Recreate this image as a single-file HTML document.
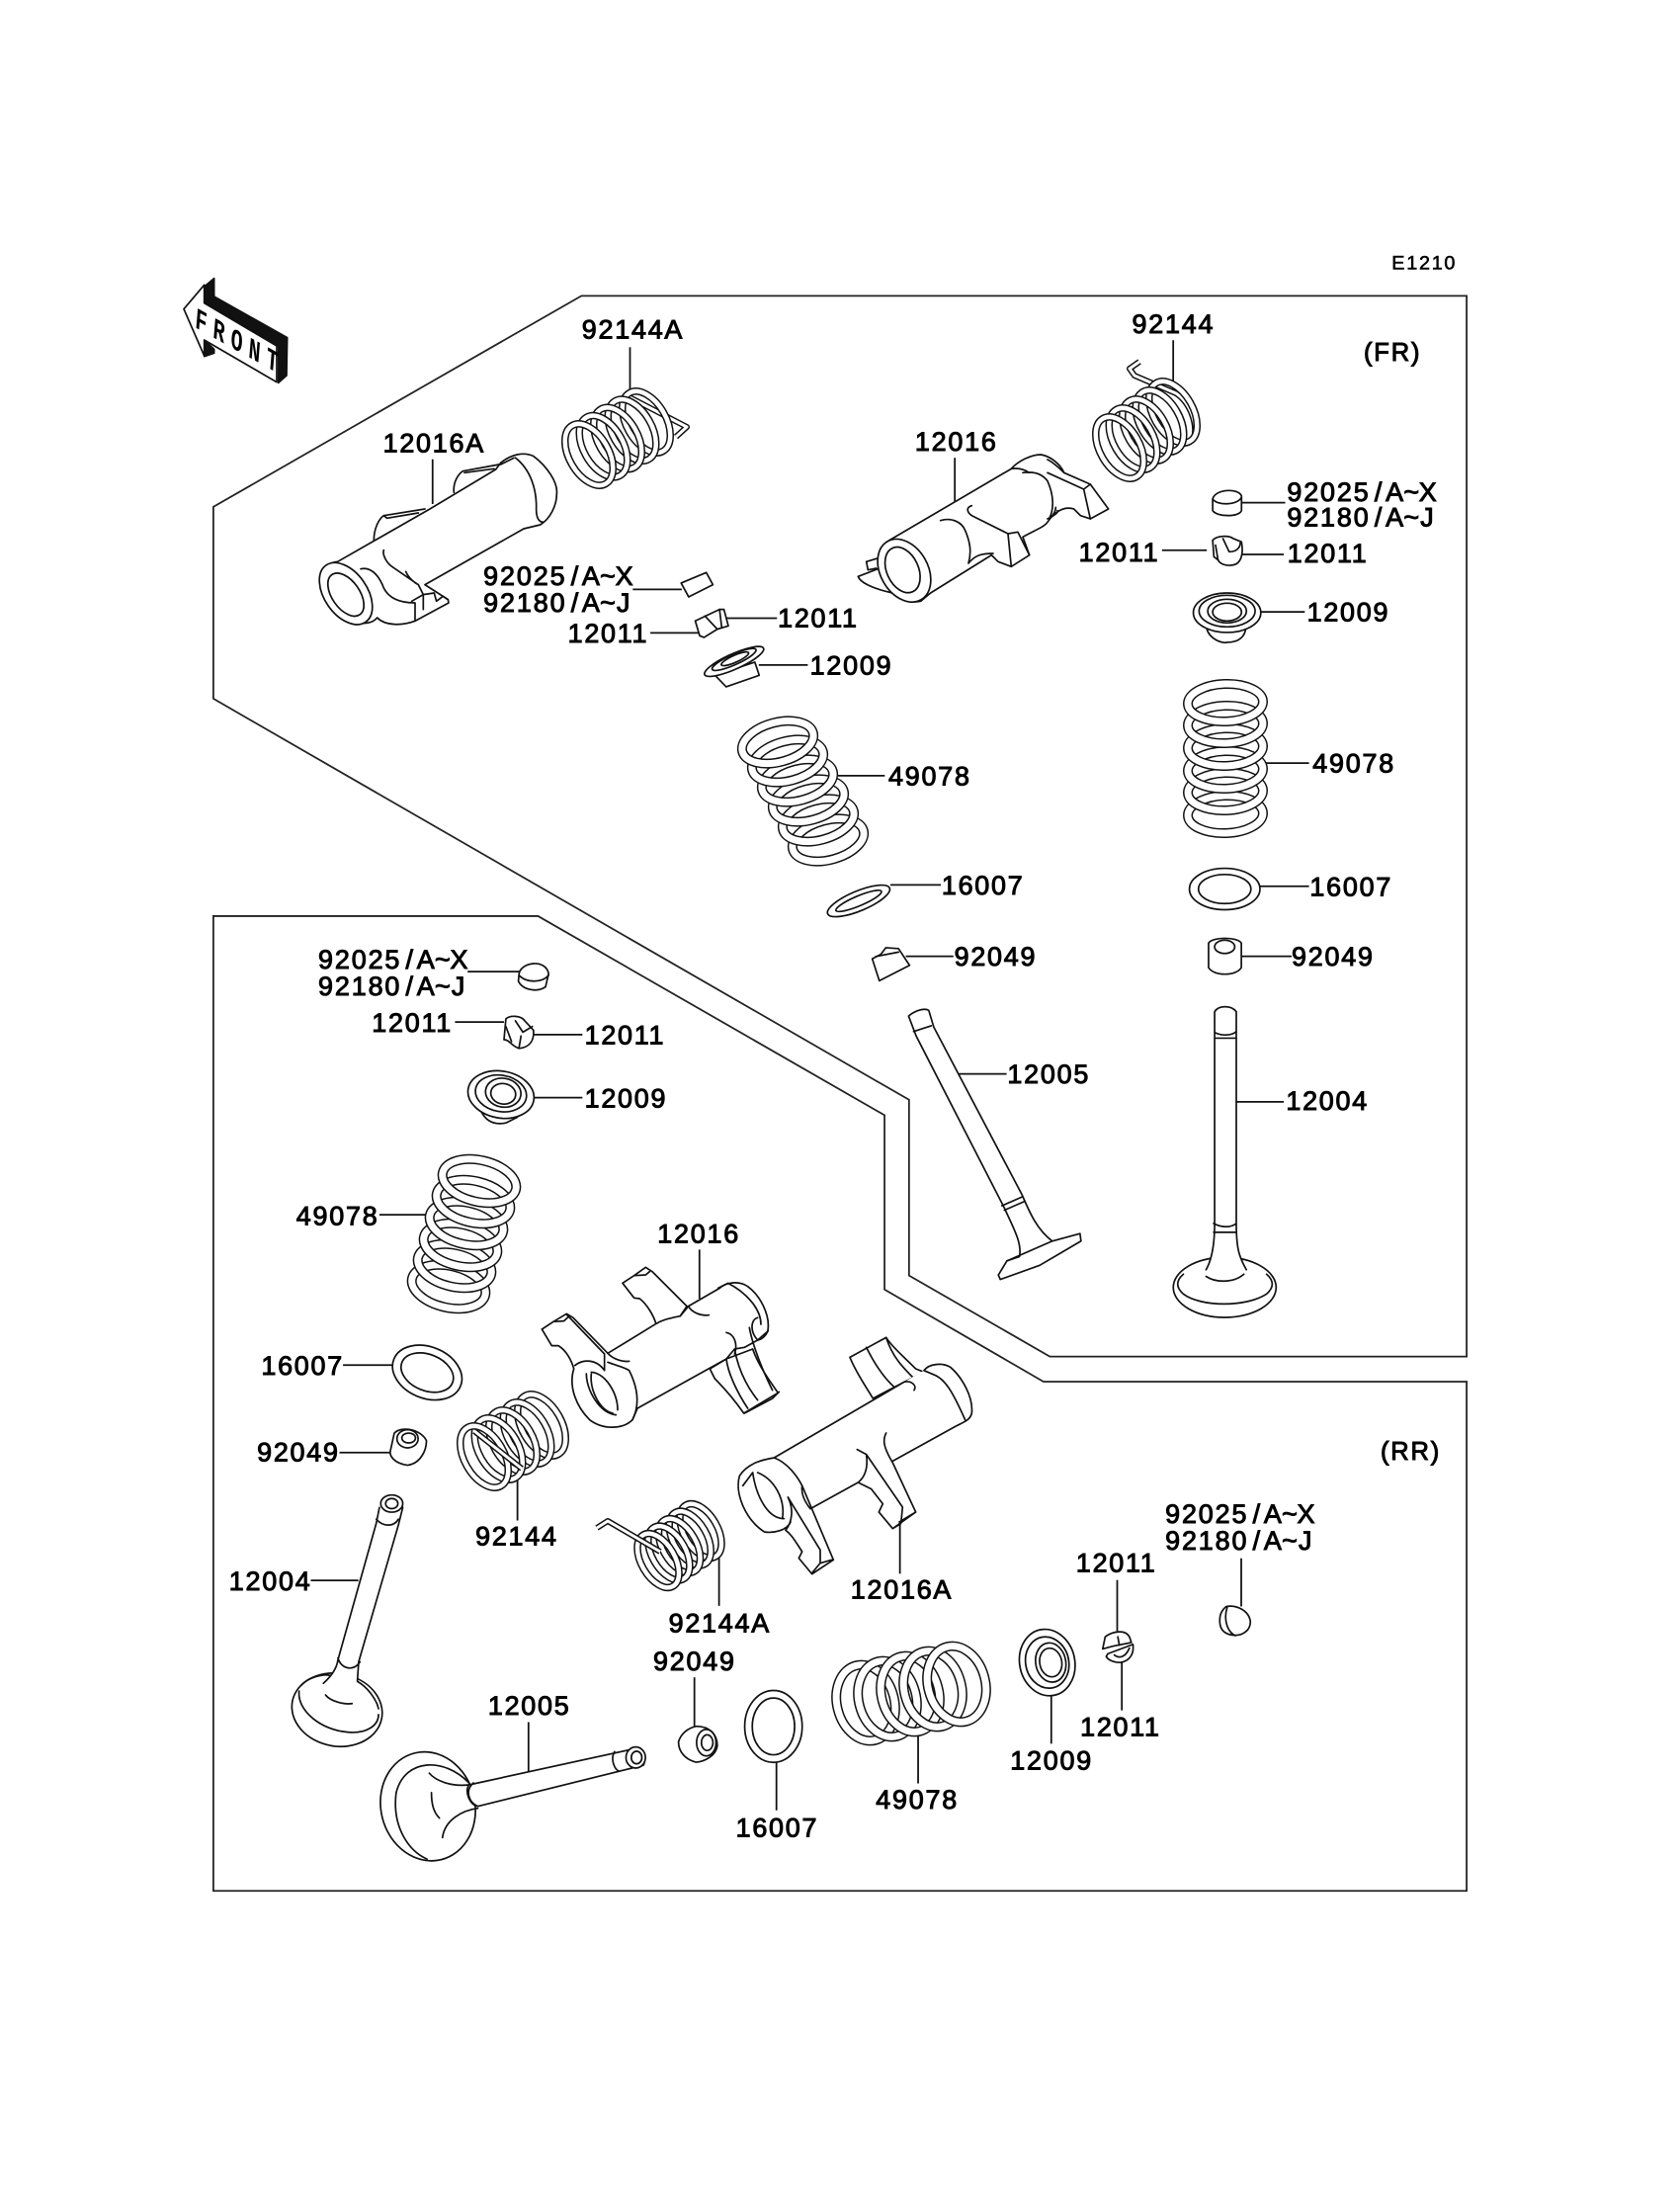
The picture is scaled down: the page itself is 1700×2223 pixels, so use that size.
<!DOCTYPE html>
<html><head><meta charset="utf-8"><title>E1210</title>
<style>
html,body{margin:0;padding:0;background:#fff}
svg{display:block}
.p *{vector-effect:non-scaling-stroke}
.p path,.p ellipse,.p polygon{fill:none;stroke:#111;stroke-width:1.7;stroke-linejoin:round;stroke-linecap:round}
.p .f{fill:#fff}
.p .m{fill:#fff;stroke:none}
.cb{fill:none;stroke:#111;stroke-width:7.5}
.cw{fill:none;stroke:#fff;stroke-width:4.5}
.cb2{fill:none;stroke:#111;stroke-width:10}
.cw2{fill:none;stroke:#fff;stroke-width:7}
.wb{fill:none;stroke:#111;stroke-width:6;stroke-linejoin:round}
.ww{fill:none;stroke:#fff;stroke-width:3;stroke-linejoin:round}
.t text{font-family:"Liberation Sans",sans-serif;font-size:19px;letter-spacing:1.25px;fill:#000;stroke:#000;stroke-width:.7}
.l line{stroke:#111;stroke-width:1.25}
.fr{fill:none;stroke:#222;stroke-width:1.25}
</style></head><body>
<svg xmlns="http://www.w3.org/2000/svg" width="1700" height="2223" viewBox="0 0 1700 2223">
<defs>
<g id="c1"><ellipse rx="34" ry="20" transform="rotate(60)" class="cb"/><ellipse rx="34" ry="20" transform="rotate(60)" class="cw"/></g>
<g id="c2"><ellipse rx="30" ry="17" transform="rotate(60)" class="cb"/><ellipse rx="30" ry="17" transform="rotate(60)" class="cw"/></g>
<g id="c3"><ellipse rx="37" ry="20" transform="rotate(-15)" class="cb2"/><ellipse rx="37" ry="20" transform="rotate(-15)" class="cw2"/></g>
<g id="c4"><ellipse rx="38" ry="19" transform="rotate(-2)" class="cb2"/><ellipse rx="38" ry="19" transform="rotate(-2)" class="cw2"/></g>
<g id="c5"><ellipse rx="38" ry="21" transform="rotate(13)" class="cb2"/><ellipse rx="38" ry="21" transform="rotate(13)" class="cw2"/></g>
<g id="c6"><ellipse rx="29" ry="39" transform="rotate(-15)" class="cb2"/><ellipse rx="29" ry="39" transform="rotate(-15)" class="cw2"/></g>
</defs>

<!-- frames & leaders -->
<g transform="scale(1.41667)">
<polygon class="fr" points="415.3,211.3 1047.6,211.3 1047.6,968.9 749.9,968.9 649.3,911 649.3,785.5 152.4,499 152.4,362"/>
<polygon class="fr" points="152.4,654.3 384.3,654.3 631.8,796.5 631.8,921 745.3,986.8 1047.6,986.8 1047.6,1350.5 152.4,1350.5"/>
<g class="l">
<line x1="450" y1="248" x2="450" y2="283"/><line x1="838" y1="243" x2="838" y2="278"/>
<line x1="309" y1="328" x2="309" y2="360"/><line x1="682" y1="327" x2="682" y2="358"/>
<line x1="880" y1="359" x2="918" y2="359"/><line x1="830" y1="393" x2="862" y2="393"/>
<line x1="880" y1="396" x2="917" y2="396"/><line x1="900" y1="437" x2="932" y2="437"/>
<line x1="452" y1="421" x2="487" y2="421"/><line x1="518.7" y1="441.5" x2="555" y2="441.5"/>
<line x1="464.5" y1="452" x2="499.8" y2="452"/><line x1="542" y1="475" x2="577" y2="475"/>
<line x1="596" y1="554" x2="632" y2="554"/><line x1="903" y1="545" x2="935" y2="545"/>
<line x1="636" y1="632" x2="672" y2="632"/><line x1="899" y1="633" x2="935" y2="633"/>
<line x1="647" y1="683" x2="681" y2="683"/><line x1="886.6" y1="683" x2="922.6" y2="683"/>
<line x1="685" y1="767" x2="719" y2="767"/><line x1="883" y1="787" x2="917" y2="787"/>
<line x1="334" y1="694" x2="371" y2="694"/><line x1="325" y1="730" x2="360" y2="730"/>
<line x1="380" y1="739" x2="416" y2="739"/><line x1="381" y1="784" x2="416" y2="784"/>
<line x1="271" y1="867.6" x2="306" y2="867.6"/><line x1="245" y1="975" x2="280" y2="975"/>
<line x1="499.6" y1="892.5" x2="499.6" y2="927.6"/><line x1="242.5" y1="1037.5" x2="279" y2="1037.5"/>
<line x1="369.6" y1="1051.5" x2="369.6" y2="1086"/><line x1="222" y1="1128.8" x2="256" y2="1128.8"/>
<line x1="513.6" y1="1111.5" x2="513.6" y2="1147"/><line x1="496" y1="1198" x2="496" y2="1234"/>
<line x1="377.5" y1="1230" x2="377.5" y2="1265"/><line x1="554.6" y1="1258" x2="554.6" y2="1293"/>
<line x1="642.8" y1="1089" x2="642.8" y2="1124"/><line x1="655.8" y1="1238.6" x2="655.8" y2="1273.8"/>
<line x1="750.9" y1="1210.8" x2="750.9" y2="1245.4"/><line x1="798" y1="1128.5" x2="798" y2="1165"/>
<line x1="801.3" y1="1186.5" x2="801.3" y2="1221.6"/><line x1="886.6" y1="1113" x2="886.6" y2="1147.4"/>
</g>
</g>

<!-- springs -->
<path class="wb" d="M637 402 L695 432 L684 442"/><path class="ww" d="M637 402 L695 432 L684 442"/>
<use href="#c1" x="654" y="427"/><use href="#c1" x="639.5" y="435.2"/><use href="#c1" x="625" y="443.5"/><use href="#c1" x="610.5" y="451.7"/><use href="#c1" x="596" y="460"/>

<path class="wb" d="M1153 366 L1143 373 L1148 380 L1190 398 C1205 408 1212 430 1208 444"/><path class="ww" d="M1153 366 L1143 373 L1148 380 L1190 398 C1205 408 1212 430 1208 444"/>
<use href="#c1" x="1187" y="417"/><use href="#c1" x="1173.5" y="426"/><use href="#c1" x="1160" y="435"/><use href="#c1" x="1146.5" y="444"/><use href="#c1" x="1133" y="453"/>

<use href="#c1" x="548" y="1442"/><use href="#c1" x="533.5" y="1450"/><use href="#c1" x="519" y="1458"/><use href="#c1" x="504.5" y="1466"/><use href="#c1" x="490" y="1474"/>
<path class="wb" d="M480 1448 L528 1486"/><path class="ww" d="M480 1448 L528 1486"/>

<use href="#c2" x="709" y="1549"/><use href="#c2" x="698.2" y="1556.5"/><use href="#c2" x="687.5" y="1564"/><use href="#c2" x="676.8" y="1571.5"/><use href="#c2" x="666" y="1579"/>
<path class="wb" d="M604 1546 L615 1539 L668 1570"/><path class="ww" d="M604 1546 L615 1539 L668 1570"/>

<use href="#c3" x="838" y="850"/><use href="#c3" x="828" y="830"/><use href="#c3" x="818" y="810"/><use href="#c3" x="807" y="790"/><use href="#c3" x="797" y="770"/><use href="#c3" x="787" y="751"/>
<use href="#c4" x="1240" y="824"/><use href="#c4" x="1240" y="801"/><use href="#c4" x="1240" y="779"/><use href="#c4" x="1240" y="756"/><use href="#c4" x="1240" y="733"/><use href="#c4" x="1240" y="711"/>
<use href="#c5" x="454" y="1302"/><use href="#c5" x="460" y="1281"/><use href="#c5" x="466" y="1260"/><use href="#c5" x="472" y="1238"/><use href="#c5" x="479" y="1216"/><use href="#c5" x="485" y="1195"/>
<use href="#c6" x="876" y="1723"/><use href="#c6" x="898" y="1719"/><use href="#c6" x="921" y="1714"/><use href="#c6" x="944" y="1709"/><use href="#c6" x="968" y="1704"/>

<!-- FRONT arrow -->
<g class="p" transform="translate(170 270) scale(.3333)">
<path style="fill:#111" d="M110 60L140 35V90L362 215L360 330L335 352V240L110 112ZM110 222L140 250V262L110 272Z"/>
<polygon class="f" points="48,128 110,55 110,110 330,240 330,350 110,222 110,270"/>
</g>
<text transform="matrix(.65 .36 -.08 1 197 331)" style="font-family:'Liberation Mono',monospace;font-weight:bold;font-size:30px;letter-spacing:9.7px;fill:#000">FRONT</text>

<!-- 12016A upper -->
<g class="p" transform="translate(320 445) scale(.3333)">
<path d="M175 305C175 270 190 240 205 230L330 210M205 230L215 238L310 222M418 160C415 130 430 105 445 95L555 75M450 100L540 88"/>
<path class="f" d="M65 370L345 210L545 90L560 70C590 45 630 35 660 50C700 80 735 130 730 165C730 200 710 240 680 258L630 270L330 440L400 485L402 495L300 550C260 565 210 565 185 540C160 570 100 560 60 510C20 460 5 410 30 385C40 375 50 372 65 370Z"/>
<ellipse class="f" cx="90" cy="467" rx="65" ry="105" transform="rotate(-35 90 467)"/>
<ellipse cx="90" cy="470" rx="42" ry="74" transform="rotate(-35 90 470)"/>
<path d="M605 55C650 90 670 150 668 210C668 235 675 250 690 250M560 75L600 55M135 392C165 385 190 410 205 450C220 480 250 495 300 495L300 550M205 335C200 350 215 375 230 385L310 440L325 470L290 490M272 400C280 420 300 435 310 440M325 470L325 515M325 470L358 465L365 490L385 475L400 485"/>
</g>

<!-- 12016 upper -->
<g class="p" transform="translate(860 445) scale(.3333)">
<path d="M90 358L50 370L55 395L80 390M25 415L90 390M25 415C30 430 60 450 130 465"/>
<path class="f" d="M120 305L490 88C510 65 550 45 580 45C610 50 640 75 650 100L730 135L785 210L730 240L700 230L680 210C650 200 620 220 600 250C590 265 560 275 525 295L545 350L490 385L450 370L430 350L245 465L215 490C190 495 160 490 130 460C95 420 80 370 95 335C100 320 110 310 120 305Z"/>
<ellipse class="f" cx="165" cy="397" rx="72" ry="102" transform="rotate(-30 165 397)"/>
<ellipse cx="160" cy="395" rx="48" ry="73" transform="rotate(-25 160 395)"/>
<path d="M275 245C310 235 340 250 350 275C365 310 370 340 360 375C380 350 400 345 435 345M370 200C350 205 355 225 380 235L480 285L490 385M480 285L510 280L545 350M490 88C510 85 530 90 545 100M525 100C560 95 585 105 600 125C620 170 620 210 605 240M600 100L710 150L730 240M710 150L730 135M600 60C620 70 640 90 650 100M600 240C620 230 635 220 630 215M610 235C620 225 625 215 625 205"/>
</g>

<!-- 12016 lower -->
<g class="p" transform="translate(540 1250) scale(.3333)">
<path class="f" d="M535 405L550 435C580 465 610 500 638 540L742 478C715 440 680 390 665 345L585 375Z"/>
<path d="M585 375C590 420 620 480 650 525M610 345C620 400 640 450 680 500M640 540L725 495L745 475"/>
<path class="f" d="M270 145L305 122L340 97L360 110L465 215L445 245L372 270C365 245 345 210 322 192L305 190Z"/>
<path d="M305 122L340 120L352 110M445 245C455 265 455 280 440 295"/>
<path class="f" d="M25 285L60 262L100 238L120 250L225 358L372 268C395 255 420 250 445 245L470 215L565 160C580 145 620 135 650 155C690 185 715 240 712 280C712 300 695 315 680 318L640 340L610 345L585 375L315 525L300 560C270 590 210 590 170 560C130 520 105 460 122 405C115 380 100 350 75 335L55 335Z"/>
<path d="M60 262L92 260L105 248M100 240L215 360L215 410M125 395C150 375 190 375 215 410M225 358C240 375 270 385 290 382M225 385C250 395 275 400 290 410C320 470 320 520 300 560M160 420C160 470 200 540 250 545M175 415C220 420 255 480 255 530M175 420C170 470 200 530 240 540M470 215C480 235 510 245 532 242M560 160L590 145C640 170 690 220 690 270M680 250C660 255 655 290 680 318L712 290M585 295C610 300 620 330 610 360"/>
<path d="M655 280C660 310 680 380 725 470"/>
</g>

<!-- 12016A lower -->
<g class="p" transform="translate(740 1340) scale(.3333)">
<path class="f" d="M360 100L470 40C490 70 520 95 560 135L585 145L525 175L430 225C410 190 380 150 360 100Z"/>
<path d="M410 70C440 130 470 170 500 195M470 40C490 100 520 130 555 165"/>
<path class="m" d="M130 405L525 175L585 140C640 115 735 220 730 270L680 310L490 420L560 570L490 620L448 570L425 500L385 480L240 560L310 715L245 758L205 710C190 660 180 640 165 625C130 635 60 630 25 500C20 440 80 415 130 405Z"/>
<path d="M130 405L525 175C545 170 565 185 555 200M585 140C600 120 640 115 665 130C700 160 735 220 730 270C725 290 710 295 680 310L490 415M585 140L620 155C650 170 670 200 710 290M130 405C100 410 50 420 25 460C10 510 40 590 100 630C130 635 170 625 180 600M65 450C75 520 110 590 160 590M80 450C130 470 165 530 155 590M35 490L65 450M130 405C170 420 200 460 215 490C212 510 220 535 240 560M172 525C190 560 185 600 165 625M172 525L270 685L270 725L245 755M215 490L310 715L245 758L205 710L215 690C195 660 185 640 165 625M270 725L305 715M240 560L385 480C410 460 415 430 410 395L382 380M385 480L425 500L460 545L448 570L490 620L560 570L490 420C460 370 460 350 470 330M410 395L520 555L515 605L490 620M510 600L560 570"/>
</g>

<!-- Z1 small parts -->
<g class="p" transform="translate(150 230) scale(.4464 .3333)">
<path class="f" d="M1208 1080L1265 1048L1280 1085L1225 1122Z"/>
<path class="f" d="M1240 1195L1295 1160L1305 1160L1315 1210L1290 1220L1260 1245L1250 1240Z"/><path d="M1262 1180L1290 1220M1295 1160L1300 1215"/>
<path class="f" d="M1285 1360L1310 1395L1385 1360L1375 1320Z"/>
<ellipse class="f" cx="1328" cy="1318" rx="78" ry="22" transform="rotate(-32 1328 1318)"/>
<ellipse cx="1328" cy="1312" rx="58" ry="15" transform="rotate(-32 1328 1312)"/>
<ellipse cx="1330" cy="1310" rx="36" ry="10" transform="rotate(-32 1330 1310)"/>
</g>

<!-- Z2 small parts -->
<g class="p" transform="translate(850 230) scale(.4167 .3333)">
<path class="f" d="M905 825C910 795 965 790 975 815L975 860C970 880 915 880 905 860Z"/><path d="M905 825C915 845 965 845 975 820"/>
<path class="f" d="M905 950C915 935 945 935 955 945L975 955C980 990 975 1020 955 1025C935 1030 922 1020 918 1010L908 1000Z"/><path d="M918 1010L912 965M930 945L945 985M945 985C965 985 972 970 972 958"/>
<path class="f" d="M890 1215C895 1250 930 1265 940 1260C970 1260 985 1240 985 1215"/>
<ellipse class="f" cx="940" cy="1170" rx="82" ry="60"/><ellipse cx="940" cy="1165" rx="68" ry="48"/><ellipse cx="940" cy="1165" rx="47" ry="36"/><ellipse cx="940" cy="1168" rx="35" ry="27"/>
</g>

<!-- Z3 -->
<g class="p" transform="translate(700 700) scale(.5102 .4464)">
<ellipse class="f" cx="331" cy="474" rx="68" ry="22" transform="rotate(-26 331 474)"/><ellipse cx="331" cy="474" rx="50" ry="11" transform="rotate(-26 331 474)"/>
<ellipse class="f" cx="1057" cy="447" rx="70" ry="47"/><ellipse cx="1057" cy="447" rx="52" ry="33"/>
<path class="f" d="M358 605L375 595L385 580L410 582L432 620L372 655Z"/><path d="M365 600L410 590"/>
<path class="f" d="M1025 570L1025 625C1035 645 1080 645 1090 625L1090 570C1085 555 1030 555 1025 570Z"/><ellipse cx="1057" cy="578" rx="20" ry="15"/>
<path class="f" d="M430 735C440 725 460 715 470 722L480 760L655 1140C670 1180 685 1220 715 1245L770 1228L772 1245L690 1300L612 1332L608 1322L625 1290L650 1280C655 1250 640 1220 620 1170L445 780Z"/>
<path d="M440 770L475 757M615 1165L655 1145M620 1175L660 1155M625 1290L715 1245"/>
<ellipse class="f" cx="1057" cy="1350" rx="102" ry="68"/>
<path d="M975 1320C960 1335 960 1350 975 1365C1010 1395 1100 1395 1140 1365C1155 1350 1155 1335 1140 1320"/>
<path class="m" d="M1037 725H1080V1205C1080 1260 1085 1280 1100 1310L1095 1320C1075 1340 1040 1340 1020 1325L1020 1310C1030 1290 1037 1260 1037 1205Z"/>
<path d="M1037 790L1037 725C1045 710 1070 710 1080 725L1080 1205C1080 1260 1085 1280 1100 1310M1037 1205C1037 1260 1030 1290 1020 1310M1037 772C1050 780 1070 780 1080 770M1037 785H1080M1035 1205C1050 1215 1070 1215 1080 1205M1035 1225H1080M1037 790V1205M1020 1325C1040 1340 1075 1340 1095 1320"/>
</g>

<!-- Z4 small parts -->
<g class="p" transform="translate(200 920) scale(.3827 .3827)">
<path class="f" d="M850 170C855 140 920 130 928 170L920 205C900 220 860 215 848 190Z"/><path d="M850 175C870 195 910 195 928 175"/>
<path class="f" d="M815 290C825 280 855 280 865 295L888 320C890 345 880 365 850 368C830 362 825 345 810 345Z"/><path d="M815 310L830 350M840 295L860 325L885 310M850 365L855 335"/>
<path class="f" d="M750 535C765 565 790 570 815 565L845 550"/>
<ellipse class="f" cx="802" cy="490" rx="88" ry="62" transform="rotate(10 802 490)"/><ellipse cx="802" cy="487" rx="68" ry="48" transform="rotate(10 802 487)"/><ellipse cx="808" cy="485" rx="47" ry="38" transform="rotate(10 808 485)"/><ellipse cx="808" cy="488" rx="33" ry="27" transform="rotate(10 808 488)"/>
<ellipse class="f" cx="607" cy="1225" rx="95" ry="68" transform="rotate(22 607 1225)"/><ellipse cx="607" cy="1225" rx="72" ry="48" transform="rotate(22 607 1225)"/>
<path class="f" d="M520 1385C540 1365 590 1375 605 1405C605 1430 590 1465 555 1470C520 1465 505 1445 510 1430Z"/><ellipse cx="555" cy="1400" rx="28" ry="24"/><ellipse cx="558" cy="1398" rx="18" ry="13"/>
</g>

<!-- Z5 -->
<g class="p" transform="translate(200 1300) scale(.4464 .3953)">
<path class="f" d="M1090 1170C1095 1150 1110 1135 1130 1130C1160 1130 1178 1150 1178 1180C1175 1205 1150 1220 1130 1222C1105 1215 1090 1195 1090 1170Z"/><ellipse cx="1153" cy="1172" rx="22" ry="34"/><ellipse cx="1155" cy="1172" rx="13" ry="20"/>
<ellipse class="f" cx="316" cy="1088" rx="104" ry="92" transform="rotate(22 316 1088)"/>
<path d="M230 1040C225 1090 280 1140 340 1145C380 1150 410 1130 410 1100M235 1025C250 1005 285 995 300 1000"/>
<path class="m" d="M412 570L465 570L455 615L365 965L362 1015L390 1050L300 1060L285 1020C300 1005 315 985 318 960L405 610Z"/>
<path d="M412 570L405 610L318 960C315 985 300 1005 285 1020M465 570L455 615L365 965L362 1015C385 1030 405 1060 410 1085M290 1050C300 1065 330 1075 350 1072M405 600C420 620 445 620 455 600M318 955C325 985 355 990 368 965"/>
<ellipse class="f" cx="440" cy="560" rx="25" ry="22"/><ellipse cx="440" cy="560" rx="14" ry="13"/>
<ellipse class="f" cx="522" cy="1335" rx="107" ry="140" transform="rotate(-8 522 1335)"/>
<path class="f" d="M615 1280L1000 1185C1015 1190 1015 1225 1010 1230L635 1335C615 1330 605 1295 615 1280Z"/>
<path d="M615 1275C560 1210 470 1210 450 1300C440 1390 480 1450 520 1470M525 1250C540 1270 575 1285 615 1280M555 1415C560 1370 600 1345 635 1340M530 1300C530 1330 535 1350 548 1365M625 1275C605 1295 615 1325 635 1335M945 1195C935 1215 945 1240 955 1245"/>
<ellipse class="f" cx="993" cy="1210" rx="22" ry="27"/><ellipse cx="995" cy="1210" rx="12" ry="16"/>
</g>

<!-- Z6 small parts -->
<g class="p" transform="translate(700 1350) scale(.5102 .3827)">
<ellipse class="f" cx="162" cy="1037" rx="57" ry="95"/><ellipse cx="162" cy="1037" rx="42" ry="75"/>
<ellipse class="f" cx="705" cy="868" rx="55" ry="88" transform="rotate(-5 705 868)"/><ellipse cx="705" cy="868" rx="43" ry="68" transform="rotate(-5 705 868)"/><ellipse cx="712" cy="868" rx="30" ry="52" transform="rotate(-5 712 868)"/><ellipse cx="712" cy="868" rx="22" ry="38" transform="rotate(-5 712 868)"/>
<path class="f" d="M820 800C835 785 860 780 868 800L872 815L835 825L815 832Z"/><path class="f" d="M825 845L875 820C878 850 865 865 850 868C835 868 825 860 822 852Z"/><path d="M845 800L848 822M838 848C848 858 860 855 868 830"/>
<path class="f" d="M1060 720C1080 715 1105 730 1108 760C1108 785 1090 800 1070 795C1050 790 1045 770 1048 745C1050 730 1060 720 1060 720Z"/><path d="M1062 722C1055 750 1060 785 1078 797"/>
</g>

<!-- labels -->
<g class="t" transform="scale(1.41667) translate(1.1 0)">
<text x="993" y="192.3" style="font-size:14px;letter-spacing:1.2px;stroke-width:.4">E1210</text>
<text x="973" y="257.5" style="font-size:18px;letter-spacing:1.3px">(FR)</text>
<text x="985" y="1042.5" style="font-size:18px;letter-spacing:1.3px">(RR)</text>
<text x="414.5" y="241.8">92144A</text>
<text x="807.5" y="237.8">92144</text>
<text x="272.5" y="322.8">12016A</text>
<text x="652.5" y="321.8">12016</text>
<text x="918.2 930.1 942 953.9 965.8 980.7 988.6 1001.5 1012.4" y="357.8">92025/A~X</text>
<text x="918.2 930.1 942 953.9 965.8 980.7 988.6 1001.5 1013.4" y="375.8">92180/A~J</text>
<text x="769.5" y="400.8">12011</text>
<text x="918.5" y="401.8">12011</text>
<text x="932.5" y="443.8">12009</text>
<text x="344.2 356.1 368 379.9 391.8 406.7 414.6 427.5 438.4" y="417.8">92025/A~X</text>
<text x="344.2 356.1 368 379.9 391.8 406.7 414.6 427.5 439.4" y="436.8">92180/A~J</text>
<text x="554.5" y="447.8">12011</text>
<text x="404.5" y="458.8">12011</text>
<text x="577.5" y="481.8">12009</text>
<text x="633.5" y="560.8">49078</text>
<text x="936.5" y="551.8">49078</text>
<text x="671.5" y="638.8">16007</text>
<text x="934.5" y="639.8">16007</text>
<text x="680.5" y="689.8">92049</text>
<text x="921.5" y="689.8">92049</text>
<text x="718.5" y="773.8">12005</text>
<text x="917.5" y="792.8">12004</text>
<text x="226.2 238.1 250 261.9 273.8 288.7 296.6 309.5 320.4" y="691.8">92025/A~X</text>
<text x="226.2 238.1 250 261.9 273.8 288.7 296.6 309.5 321.4" y="710.8">92180/A~J</text>
<text x="264.5" y="736.8">12011</text>
<text x="416.5" y="745.8">12011</text>
<text x="416.5" y="790.8">12009</text>
<text x="210.5" y="874.8">49078</text>
<text x="468.5" y="887.8">12016</text>
<text x="185.5" y="981.8">16007</text>
<text x="182.5" y="1043.8">92049</text>
<text x="338.5" y="1103.8">92144</text>
<text x="162.5" y="1135.8">12004</text>
<text x="476.5" y="1165.8">92144A</text>
<text x="606.5" y="1141.8">12016A</text>
<text x="831.2 843.1 855 866.9 878.8 893.7 901.6 914.5 925.4" y="1087.8">92025/A~X</text>
<text x="831.2 843.1 855 866.9 878.8 893.7 901.6 914.5 926.4" y="1106.8">92180/A~J</text>
<text x="767.5" y="1122.8">12011</text>
<text x="770.5" y="1239.8">12011</text>
<text x="720.5" y="1263.8">12009</text>
<text x="465.5" y="1192.8">92049</text>
<text x="347.5" y="1224.8">12005</text>
<text x="624.5" y="1291.8">49078</text>
<text x="524.5" y="1311.8">16007</text>
</g>
</svg>
</body></html>
